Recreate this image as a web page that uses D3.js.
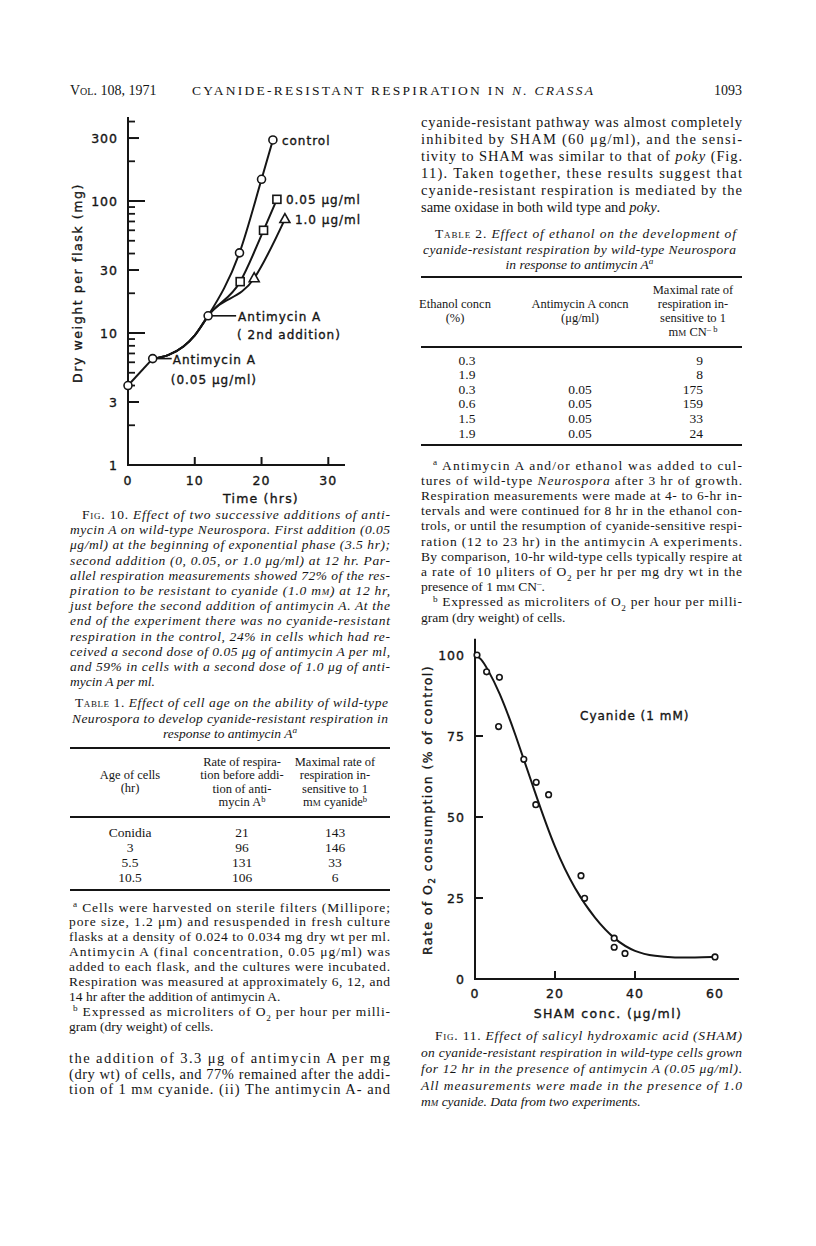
<!DOCTYPE html>
<html>
<head>
<meta charset="utf-8">
<script src="https://cdn.jsdelivr.net/npm/d3@7"></script>
<style>
  body { margin: 0; background: #fff; }
  svg { display: block; }
  .chart-text { stroke: #151515; stroke-width: 0.35px; }
</style>
</head>
<body>
<svg id="page" width="816" height="1246"></svg>
<script>
// ---- Fig. 10 data (time in hrs, dry weight in mg) ----
const startTime = [0, 3.7];
const startWeight = [4.0, 6.4];
const commonTime = [3.7, 6, 8.3, 10, 12];
const commonWeight = [6.4, 6.8, 7.9, 9.6, 13.5];
const controlTime = [12, 16.7, 20, 21.7];
const controlWeight = [13.5, 40.5, 146, 290];
const low05Time = [12, 16.8, 20.3, 22.3];
const low05Weight = [13.5, 24.5, 60, 103];
const high10Time = [12, 18.9, 23.5];
const high10Weight = [13.5, 26, 73];
const weightMajor = [3, 10, 30, 100, 300];
const weightMinor = [2, 4, 5, 6, 7, 8, 9, 20, 40, 50, 60, 70, 80, 90, 200, 400];
const weightLabels = [1, 3, 10, 30, 100, 300];
const timeTicks = [0, 10, 20, 30];

// ---- Fig. 11 data (SHAM ug/ml, % of control) ----
const shamConc = [0.5, 2.9, 6.1, 5.9, 12.2, 15.3, 18.4, 15.2, 26.5, 27.4, 34.8, 34.8, 37.5, 60];
const o2Rate = [100, 94.8, 93.1, 77.9, 67.8, 60.7, 56.9, 53.8, 31.9, 24.9, 12.6, 9.8, 7.9, 6.8];
const fitConc = [0, 1.5, 3, 6, 10, 15, 20, 25, 30, 35, 40, 45, 50, 55, 60];
const fitRate = [100, 99, 96, 89, 76, 57.5, 40, 27.5, 18.5, 12, 8.3, 7, 6.6, 6.6, 6.8];
const rateTicks = [0, 25, 50, 75, 100];
const shamTicks = [0, 20, 40, 60];

// ---- Table 1 ----
const t1Age = ['Conidia', '3', '5.5', '10.5'];
const t1Rate = ['21', '96', '131', '106'];
const t1Max = ['143', '146', '33', '6'];
// ---- Table 2 ----
const t2Ethanol = ['0.3', '1.9', '0.3', '0.6', '1.5', '1.9'];
const t2Antimycin = ['', '', '0.05', '0.05', '0.05', '0.05'];
const t2Max = ['9', '8', '175', '159', '33', '24'];

const SERIF = '"Liberation Serif", "Times New Roman", serif';
const SANS = '"DejaVu Sans", sans-serif';
const INK = '#151515';

const svg = d3.select('#page');

// one line of text with simple tags: <i> <n> <sup> <sub> <sc>
function addLine(parent, str, x, y, o) {
  const size = o.size;
  const t = parent.append('text')
    .attr('x', x).attr('y', y)
    .attr('font-family', o.family || SERIF)
    .attr('font-size', size)
    .attr('fill', INK);
  if (o.anchor) t.attr('text-anchor', o.anchor);
  if (o.width) t.attr('textLength', o.width).attr('lengthAdjust', 'spacing');
  let italic = !!o.italic, sc = false, pending = 0, kind = null, shift = 0;
  str.split(/(<\/?(?:i|n|sup|sub|sc)>)/).forEach(tok => {
    if (!tok) return;
    const m = tok.match(/^<(\/?)(i|n|sup|sub|sc)>$/);
    if (m) {
      const on = !m[1];
      if (m[2] === 'i') italic = on;
      else if (m[2] === 'n') italic = on ? false : !!o.italic;
      else if (m[2] === 'sc') sc = on;
      else {
        if (on) { shift = (m[2] === 'sup' ? -1 : 1) * size * 0.35; pending = shift; kind = m[2]; }
        else { pending = -shift; kind = null; }
      }
      return;
    }
    const sp = t.append('tspan').text(tok)
      .attr('font-style', italic ? 'italic' : 'normal');
    if (sc) sp.attr('font-variant', 'small-caps');
    if (kind) sp.attr('font-size', size * 0.68);
    if (pending) { sp.attr('dy', pending); pending = 0; }
  });
  return t;
}

function block(lines, x0, y0, step, width, opts) {
  lines.forEach((ln, i) => {
    const o = typeof ln === 'string' ? { s: ln } : ln;
    const ind = o.indent || 0;
    const y = y0 + i * step;
    if (o.center) addLine(svg, o.s, x0 + width / 2, y, Object.assign({}, opts, { anchor: 'middle' }));
    else addLine(svg, o.s, x0 + ind, y, Object.assign({}, opts, { width: o.last ? null : width - ind }));
  });
}

function rule(x0, x1, y, w) {
  svg.append('line').attr('x1', x0).attr('x2', x1).attr('y1', y).attr('y2', y)
    .attr('stroke', INK).attr('stroke-width', w);
}

// ---- running head ----
addLine(svg, '<sc>Vol.</sc> 108, 1971', 70, 95, { size: 14 });
addLine(svg, 'CYANIDE-RESISTANT RESPIRATION IN <i>N. CRASSA</i>', 192, 95, { size: 13.5, width: 401 });
addLine(svg, '1093', 742, 95, { size: 14, anchor: 'end' });

// ================= Fig. 10 =================
const fig10 = svg.append('g');
const x1 = d3.scaleLinear().domain([0, 32.5]).range([128, 345]);
const y1 = d3.scaleLog().domain([1, 433]).range([465, 117]);

fig10.append('path')
  .attr('d', `M${x1(0)},${y1(433)}V${y1(1)}H${x1(32.5)}`)
  .attr('fill', 'none').attr('stroke', INK).attr('stroke-width', 2);

fig10.selectAll('.ymaj').data(weightMajor).enter().append('line')
  .attr('x1', x1(0)).attr('x2', d => x1(0) + (d === 10 || d === 100 ? 17 : 11))
  .attr('y1', d => y1(d)).attr('y2', d => y1(d))
  .attr('stroke', INK).attr('stroke-width', 2);
fig10.selectAll('.ymin').data(weightMinor).enter().append('line')
  .attr('x1', x1(0)).attr('x2', x1(0) + 7)
  .attr('y1', d => y1(d)).attr('y2', d => y1(d))
  .attr('stroke', INK).attr('stroke-width', 1.8);
fig10.selectAll('.ylab').data(weightLabels).enter().append('text')
  .attr('class', 'chart-text')
  .attr('x', x1(0) - 10).attr('y', d => y1(d) + 5)
  .attr('text-anchor', 'end').attr('font-family', SANS).attr('font-size', 12.5)
  .attr('letter-spacing', 1).attr('fill', INK).text(d => d);
fig10.selectAll('.xt').data(timeTicks.slice(1)).enter().append('line')
  .attr('x1', d => x1(d)).attr('x2', d => x1(d))
  .attr('y1', y1(1)).attr('y2', y1(1) - 8)
  .attr('stroke', INK).attr('stroke-width', 2);
fig10.selectAll('.xlab').data(timeTicks).enter().append('text')
  .attr('class', 'chart-text')
  .attr('x', d => x1(d)).attr('y', y1(1) + 20)
  .attr('text-anchor', 'middle').attr('font-family', SANS).attr('font-size', 12.5)
  .attr('letter-spacing', 1).attr('fill', INK).text(d => d);
fig10.append('text').attr('class', 'chart-text')
  .attr('x', 261).attr('y', 503).attr('text-anchor', 'middle')
  .attr('font-family', SANS).attr('font-size', 12.5).attr('letter-spacing', 1.2)
  .attr('fill', INK).text('Time (hrs)');
fig10.append('text').attr('class', 'chart-text')
  .attr('transform', 'translate(82,283) rotate(-90)')
  .attr('text-anchor', 'middle').attr('font-family', SANS).attr('font-size', 12.5)
  .attr('letter-spacing', 1.6).attr('fill', INK).text('Dry weight per flask (mg)');

const line1 = d3.line().x(d => x1(d[0])).y(d => y1(d[1])).curve(d3.curveMonotoneX);
const zip = (a, b) => a.map((v, i) => [v, b[i]]);
fig10.append('path').attr('d', d3.line().x(d => x1(d[0])).y(d => y1(d[1]))(zip(startTime, startWeight)))
  .attr('fill', 'none').attr('stroke', INK).attr('stroke-width', 2);
[[controlTime, controlWeight], [low05Time, low05Weight], [high10Time, high10Weight]].forEach(([t, w]) => {
  const pts = zip(commonTime, commonWeight).concat(zip(t, w).slice(1));
  fig10.append('path').attr('d', line1(pts))
    .attr('fill', 'none').attr('stroke', INK).attr('stroke-width', 2);
});

function circles(g, pts, xs, ys, r) {
  g.selectAll(null).data(pts).enter().append('circle')
    .attr('cx', d => xs(d[0])).attr('cy', d => ys(d[1])).attr('r', r)
    .attr('fill', '#fff').attr('stroke', INK).attr('stroke-width', 1.6);
}
circles(fig10, zip(startTime, startWeight).concat([[12, 13.5]]), x1, y1, 4);
circles(fig10, zip(controlTime, controlWeight).slice(1), x1, y1, 4);
fig10.selectAll(null).data(zip(low05Time, low05Weight).slice(1)).enter().append('rect')
  .attr('x', d => x1(d[0]) - 4).attr('y', d => y1(d[1]) - 4).attr('width', 8).attr('height', 8)
  .attr('fill', '#fff').attr('stroke', INK).attr('stroke-width', 1.6);
fig10.selectAll(null).data(zip(high10Time, high10Weight).slice(1)).enter().append('path')
  .attr('d', d => `M${x1(d[0])},${y1(d[1]) - 5.5}l5,9h-10z`)
  .attr('fill', '#fff').attr('stroke', INK).attr('stroke-width', 1.6);

const lab = (t, x, y) => fig10.append('text').attr('class', 'chart-text')
  .attr('x', x).attr('y', y)
  .attr('font-family', SANS).attr('font-size', 12).attr('letter-spacing', 1)
  .attr('fill', INK).text(t);
lab('control', x1(21.7) + 9, y1(290) + 5);
lab('0.05 \u03BCg/ml', x1(22.3) + 9, y1(103) + 5);
lab('1.0 \u03BCg/ml', x1(23.5) + 10, y1(73) + 5);
fig10.append('line').attr('x1', x1(12) + 4).attr('x2', x1(12) + 28)
  .attr('y1', y1(13.5)).attr('y2', y1(13.5)).attr('stroke', INK).attr('stroke-width', 1.6);
lab('Antimycin A', x1(12) + 30, y1(13.5) + 5);
lab('( 2nd addition)', x1(12) + 29, y1(13.5) + 23);
fig10.append('line').attr('x1', x1(3.7) + 4).attr('x2', x1(3.7) + 19)
  .attr('y1', y1(6.4)).attr('y2', y1(6.4)).attr('stroke', INK).attr('stroke-width', 1.6);
lab('Antimycin A', x1(3.7) + 20, y1(6.4) + 5);
lab('(0.05 \u03BCg/ml)', x1(3.7) + 18, y1(6.4) + 25);

// ---- Fig. 10 legend ----
block([
  { s: '<n><sc>Fig.</sc> 10.</n> Effect of two successive additions of anti-', indent: 12 },
  'mycin A on wild-type Neurospora. First addition (0.05',
  '\u03BCg/ml) at the beginning of exponential phase (3.5 hr);',
  'second addition (0, 0.05, or 1.0 \u03BCg/ml) at 12 hr. Par-',
  'allel respiration measurements showed 72% of the res-',
  'piration to be resistant to cyanide (1.0 m<sc>m</sc>) at 12 hr,',
  'just before the second addition of antimycin A. At the',
  'end of the experiment there was no cyanide-resistant',
  'respiration in the control, 24% in cells which had re-',
  'ceived a second dose of 0.05 \u03BCg of antimycin A per ml,',
  'and 59% in cells with a second dose of 1.0 \u03BCg of anti-',
  { s: 'mycin A per ml.', last: true }
], 70, 519, 15.2, 320, { size: 13.5, italic: true });

// ---- Table 1 ----
block([
  { s: '<n><sc>Table</sc> 1.</n> Effect of cell age on the ability of wild-type', indent: 3 },
  'Neurospora to develop cyanide-resistant respiration in',
  { s: 'response to antimycin A<sup>a</sup>', center: true }
], 72, 707, 15.5, 316, { size: 13.5, italic: true });
rule(70, 390, 748, 2.2);
const t1Cols = [130, 242, 335];
[[['Age of cells', '(hr)'], 779],
 [['Rate of respira-', 'tion before addi-', 'tion of anti-', 'mycin A<sup>b</sup>'], 766],
 [['Maximal rate of', 'respiration in-', 'sensitive to 1', 'm<sc>m</sc> cyanide<sup>b</sup>'], 766]
].forEach(([ls, y0], c) => ls.forEach((s, i) =>
  addLine(svg, s, t1Cols[c], y0 + i * 13.4, { size: 12.5, anchor: 'middle' })));
rule(70, 390, 817, 1.8);
t1Age.forEach((v, i) => {
  const y = 836.5 + i * 15;
  addLine(svg, v, t1Cols[0], y, { size: 13.5, anchor: 'middle' });
  addLine(svg, t1Rate[i], t1Cols[1], y, { size: 13.5, anchor: 'middle' });
  addLine(svg, t1Max[i], t1Cols[2], y, { size: 13.5, anchor: 'middle' });
});
rule(70, 390, 890, 1.8);
block([
  { s: '<sup>a</sup> Cells were harvested on sterile filters (Millipore;', indent: 4 },
  'pore size, 1.2 \u03BCm) and resuspended in fresh culture',
  'flasks at a density of 0.024 to 0.034 mg dry wt per ml.',
  'Antimycin A (final concentration, 0.05 \u03BCg/ml) was',
  'added to each flask, and the cultures were incubated.',
  'Respiration was measured at approximately 6, 12, and',
  { s: '14 hr after the addition of antimycin A.', last: true },
  { s: '<sup>b</sup> Expressed as microliters of O<sub>2</sub> per hour per milli-', indent: 4 },
  { s: 'gram (dry weight) of cells.', last: true }
], 69, 911.5, 14.9, 321, { size: 13.5 });
block([
  'the addition of 3.3 \u03BCg of antimycin A per mg',
  '(dry wt) of cells, and 77% remained after the addi-',
  'tion of 1 m<sc>m</sc> cyanide. (ii) The antimycin A- and'
], 69, 1063, 15.5, 321, { size: 14.5 });

// ================= right column =================
block([
  'cyanide-resistant pathway was almost completely',
  'inhibited by SHAM (60 \u03BCg/ml), and the sensi-',
  'tivity to SHAM was similar to that of <i>poky</i> (Fig.',
  '11). Taken together, these results suggest that',
  'cyanide-resistant respiration is mediated by the',
  { s: 'same oxidase in both wild type and <i>poky</i>.', last: true }
], 421, 127, 17, 321, { size: 14.5 });

block([
  { s: '<n><sc>Table</sc> 2.</n> Effect of ethanol on the development of', indent: 12 },
  'cyanide-resistant respiration by wild-type Neurospora',
  { s: 'in response to antimycin A<sup>a</sup>', center: true }
], 423, 238, 15.5, 313, { size: 13.5, italic: true });
rule(421, 742, 277, 2.2);
const t2Cols = [455, 580, 693];
[[['Ethanol concn', '(%)'], 308],
 [['Antimycin A concn', '(\u03BCg/ml)'], 308],
 [['Maximal rate of', 'respiration in-', 'sensitive to 1', 'm<sc>m</sc> CN<sup>\u2013 b</sup>'], 294]
].forEach(([ls, y0], c) => ls.forEach((s, i) =>
  addLine(svg, s, t2Cols[c], y0 + i * 14, { size: 12.5, anchor: 'middle' })));
rule(421, 742, 347, 1.8);
t2Ethanol.forEach((v, i) => {
  const y = 364.5 + i * 14.6;
  addLine(svg, v, 467, y, { size: 13.5, anchor: 'middle' });
  if (t2Antimycin[i]) addLine(svg, t2Antimycin[i], 580, y, { size: 13.5, anchor: 'middle' });
  addLine(svg, t2Max[i], 703, y, { size: 13.5, anchor: 'end' });
});
rule(421, 742, 445, 1.8);
block([
  { s: '<sup>a</sup> Antimycin A and/or ethanol was added to cul-', indent: 12 },
  'tures of wild-type <i>Neurospora</i> after 3 hr of growth.',
  'Respiration measurements were made at 4- to 6-hr in-',
  'tervals and were continued for 8 hr in the ethanol con-',
  'trols, or until the resumption of cyanide-sensitive respi-',
  'ration (12 to 23 hr) in the antimycin A experiments.',
  'By comparison, 10-hr wild-type cells typically respire at',
  'a rate of 10 \u03BCliters of O<sub>2</sub> per hr per mg dry wt in the',
  { s: 'presence of 1 m<sc>m</sc> CN<sup>\u2013</sup>.', last: true },
  { s: '<sup>b</sup> Expressed as microliters of O<sub>2</sub> per hour per milli-', indent: 12 },
  { s: 'gram (dry weight) of cells.', last: true }
], 421, 469.5, 15.2, 321, { size: 13.5 });

// ================= Fig. 11 =================
const fig11 = svg.append('g');
const x2 = d3.scaleLinear().domain([0, 66]).range([475, 739]);
const y2 = d3.scaleLinear().domain([0, 100]).range([979, 655]);
fig11.append('path')
  .attr('d', `M${x2(0)},${y2(105)}V${y2(0)}H${x2(66)}`)
  .attr('fill', 'none').attr('stroke', INK).attr('stroke-width', 2);
fig11.selectAll(null).data(rateTicks.slice(1, 4)).enter().append('line')
  .attr('x1', x2(0)).attr('x2', x2(0) + 8).attr('y1', d => y2(d)).attr('y2', d => y2(d))
  .attr('stroke', INK).attr('stroke-width', 2);
fig11.selectAll(null).data(rateTicks).enter().append('text')
  .attr('class', 'chart-text')
  .attr('x', x2(0) - 10).attr('y', d => y2(d) + 5).attr('text-anchor', 'end')
  .attr('font-family', SANS).attr('font-size', 12.5).attr('letter-spacing', 1)
  .attr('fill', INK).text(d => d);
fig11.selectAll(null).data(shamTicks.slice(1, 3)).enter().append('line')
  .attr('x1', d => x2(d)).attr('x2', d => x2(d)).attr('y1', y2(0)).attr('y2', y2(0) - 8)
  .attr('stroke', INK).attr('stroke-width', 2);
fig11.selectAll(null).data(shamTicks).enter().append('text')
  .attr('class', 'chart-text')
  .attr('x', d => x2(d)).attr('y', y2(0) + 19).attr('text-anchor', 'middle')
  .attr('font-family', SANS).attr('font-size', 12.5).attr('letter-spacing', 1)
  .attr('fill', INK).text(d => d);
fig11.append('text').attr('class', 'chart-text')
  .attr('x', 608).attr('y', 1018).attr('text-anchor', 'middle')
  .attr('font-family', SANS).attr('font-size', 12.5).attr('letter-spacing', 1.4)
  .attr('fill', INK).text('SHAM  conc.  (\u03BCg/ml)');
const ylab2 = fig11.append('text').attr('class', 'chart-text')
  .attr('transform', 'translate(432,810) rotate(-90)')
  .attr('text-anchor', 'middle').attr('font-family', SANS).attr('font-size', 12.5)
  .attr('letter-spacing', 1.4).attr('fill', INK);
ylab2.append('tspan').text('Rate of O');
ylab2.append('tspan').attr('font-size', 9).attr('dy', 3).text('2');
ylab2.append('tspan').attr('dy', -3).text(' consumption (% of control)');
fig11.append('text').attr('class', 'chart-text')
  .attr('x', 580).attr('y', 720)
  .attr('font-family', SANS).attr('font-size', 12).attr('letter-spacing', 1)
  .attr('fill', INK).text('Cyanide (1 mM)');
fig11.append('path')
  .attr('d', d3.line().x(d => x2(d[0])).y(d => y2(d[1])).curve(d3.curveBasis)(zip(fitConc, fitRate)))
  .attr('fill', 'none').attr('stroke', INK).attr('stroke-width', 2);
circles(fig11, zip(shamConc, o2Rate), x2, y2, 2.8);

block([
  { s: '<n><sc>Fig.</sc> 11.</n> Effect of salicyl hydroxamic acid (SHAM)', indent: 14 },
  'on cyanide-resistant respiration in wild-type cells grown',
  'for 12 hr in the presence of antimycin A (0.05 \u03BCg/ml).',
  'All measurements were made in the presence of 1.0',
  { s: 'm<sc>m</sc> cyanide. Data from two experiments.', last: true }
], 421, 1040, 16.5, 321, { size: 13.5, italic: true });
</script>
</body>
</html>
